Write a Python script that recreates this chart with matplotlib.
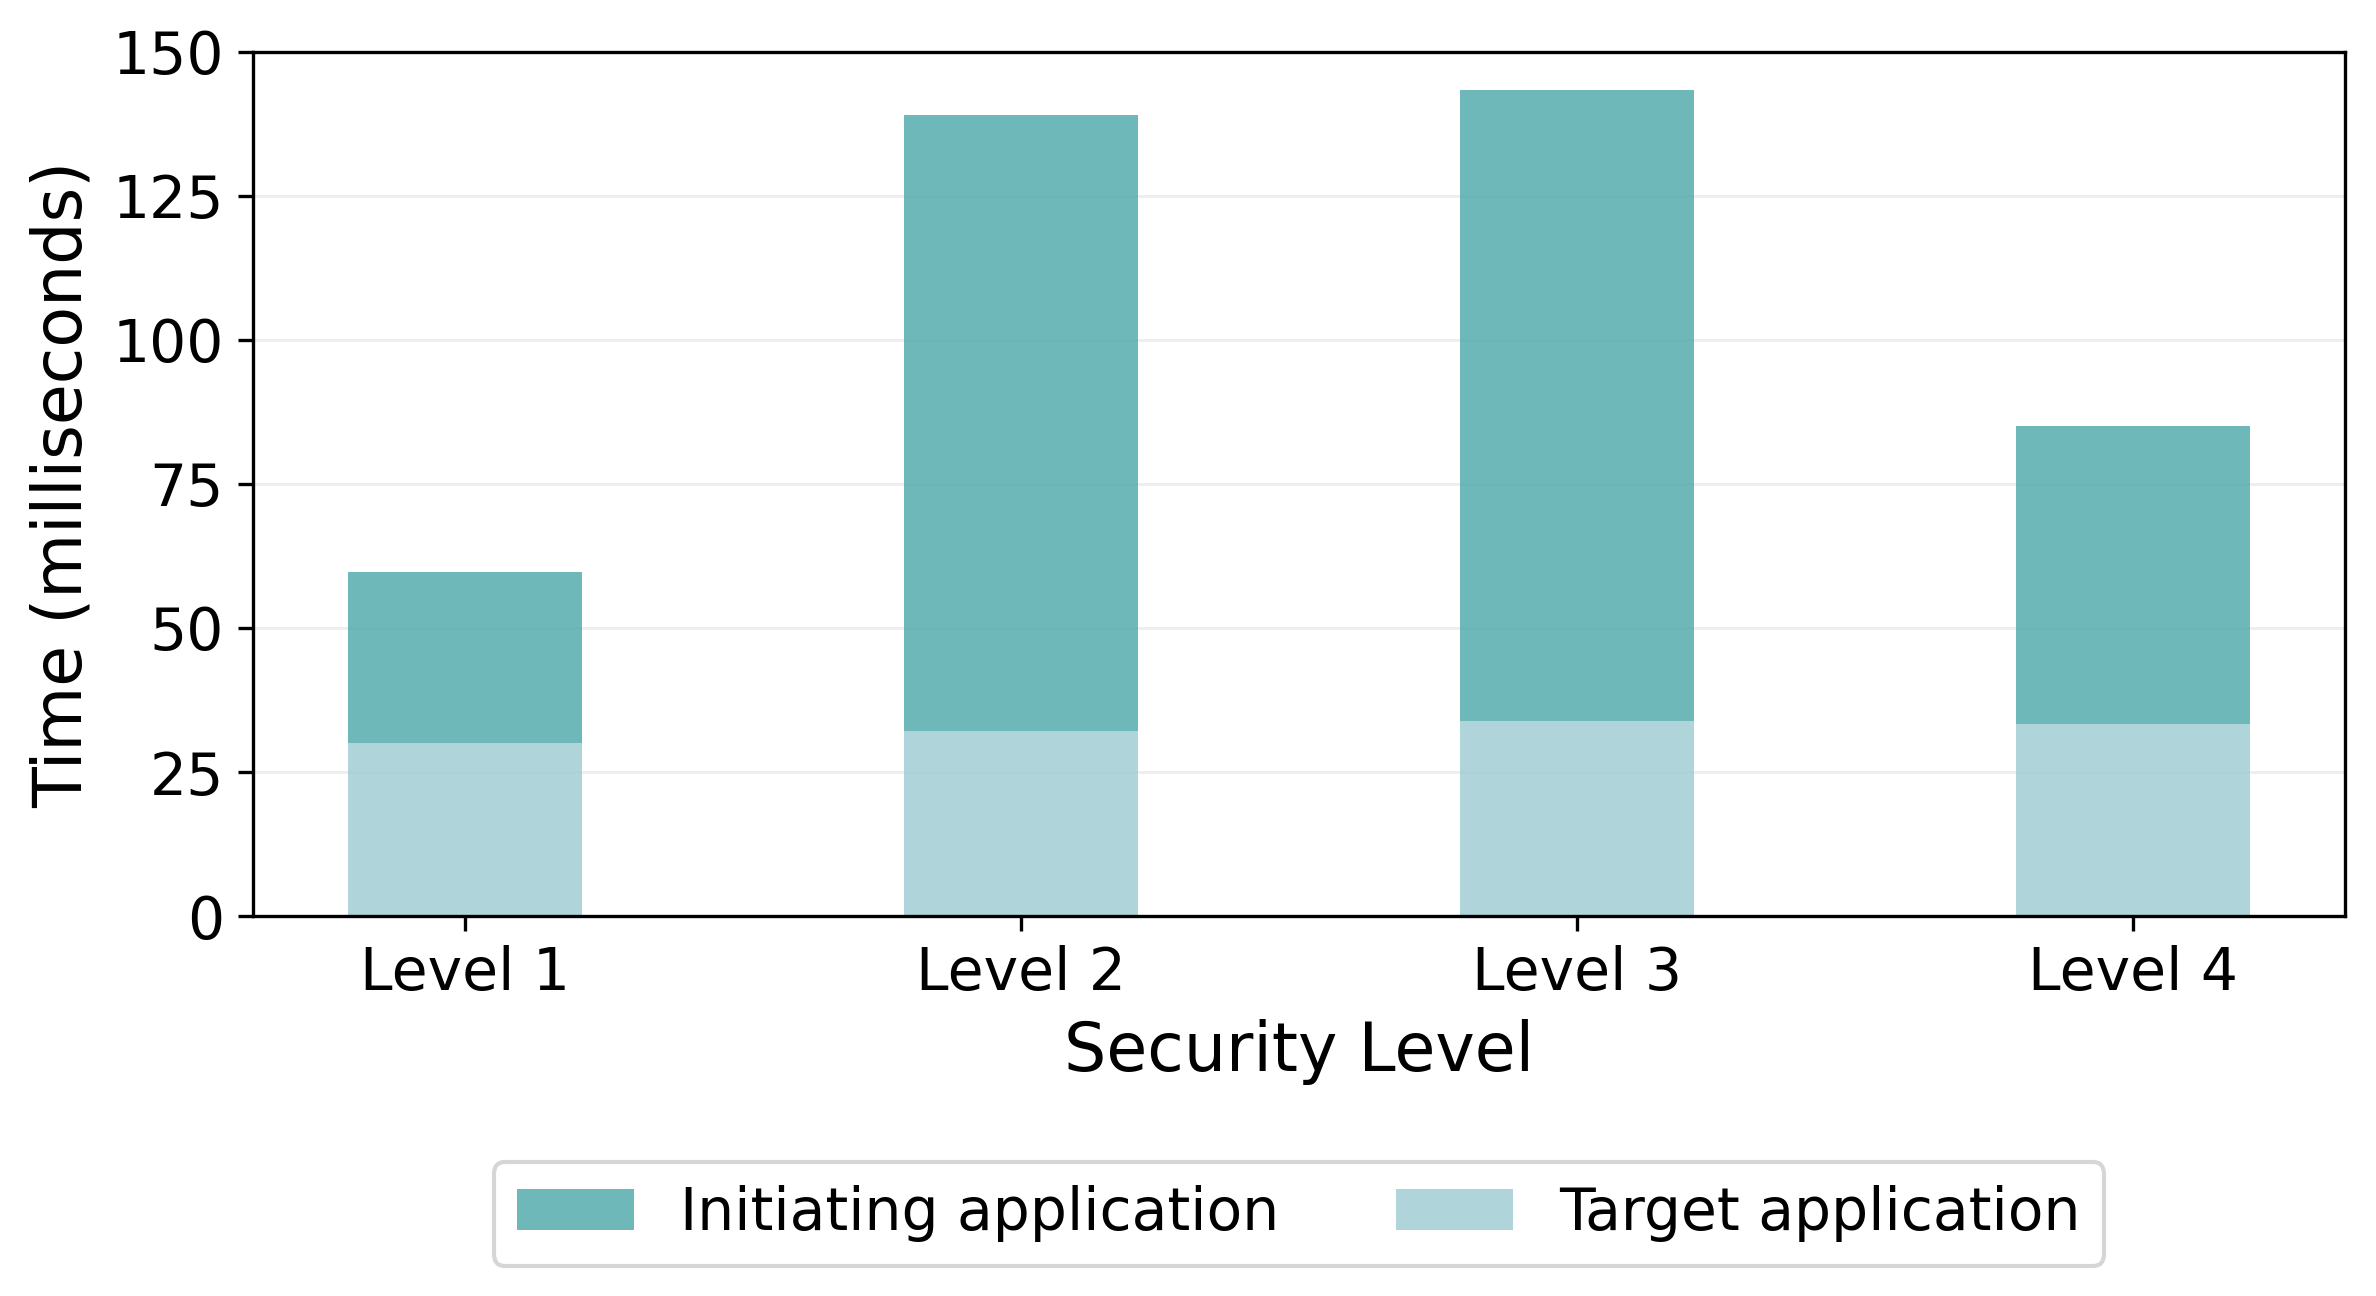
import matplotlib
matplotlib.use("Agg")
import matplotlib.pyplot as plt
import numpy as np

levels = ["Level 1", "Level 2", "Level 3", "Level 4"]
target = [30.0, 32.1, 33.9, 33.3]
initiating = [29.7, 107.0, 109.5, 51.8]

c_init = "#4ba6a9"
c_targ = "#9bcbd1"

fig = plt.figure(figsize=(7.92, 4.32), dpi=300)
ax = fig.add_axes([0.1065, 0.2932, 0.8805, 0.6667])
x = np.arange(len(levels))
w = 0.42
ax.bar(x, target, w, color=c_targ, alpha=0.8, label="Target application", zorder=2)
ax.bar(x, initiating, w, bottom=target, color=c_init, alpha=0.8,
       label="Initiating application", zorder=2)

ax.set_ylim(0, 150)
ax.set_yticks([0, 25, 50, 75, 100, 125, 150])
ax.set_xticks(x)
ax.set_xticklabels(levels)
ax.tick_params(labelsize=14)
ax.set_xlabel("Security Level", fontsize=16)
ax.set_ylabel("Time (milliseconds)", fontsize=16)
ax.yaxis.grid(True, color="#eeeeee", linewidth=0.7, zorder=0)
ax.set_axisbelow(True)

h, l = ax.get_legend_handles_labels()
fig.legend(h[::-1], l[::-1], loc="upper center", bbox_to_anchor=(0.1065 + 0.8805 / 2, 0.1034),
           ncol=2, fontsize=14, frameon=True, borderaxespad=0, columnspacing=2.0)

fig.savefig("out.png", dpi=300)
